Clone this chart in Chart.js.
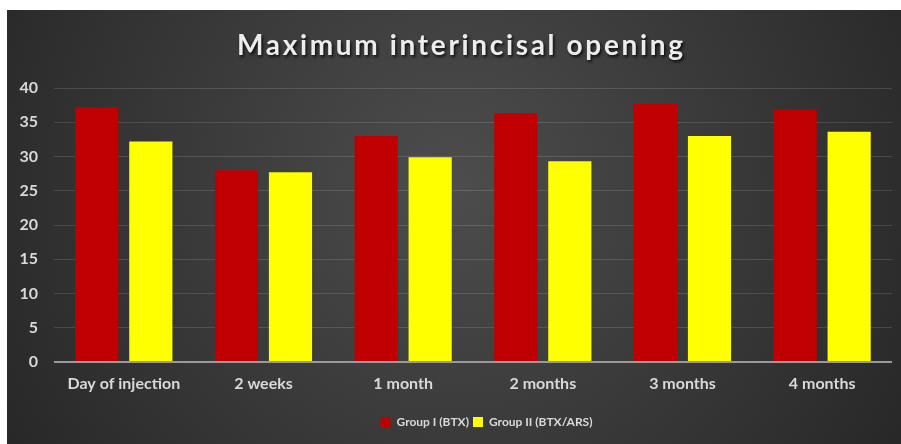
<!DOCTYPE html>
<html>
<head>
<meta charset="utf-8">
<script src="https://cdn.jsdelivr.net/npm/chart.js@4/dist/chart.umd.min.js"></script>
<style>
  html, body { margin: 0; padding: 0; background: #ffffff; }
  #wrap { position: absolute; left: 7px; top: 10px; width: 894px; height: 434px; }
</style>
</head>
<body>
<div id="wrap"><canvas id="c"></canvas></div>
<script>
const categories = ["Day of injection", "2 weeks", "1 month", "2 months", "3 months", "4 months"];
const group1 = [37.2, 28.0, 33.0, 36.3, 37.7, 36.9];
const group2 = [32.2, 27.7, 29.9, 29.3, 33.0, 33.6];
const seriesNames = ["Group I (BTX)", "Group II (BTX/ARS)"];
const titleText = "Maximum interincisal opening";
const yTicks = [0, 5, 10, 15, 20, 25, 30, 35, 40];

const FONT = "Lato, 'Open Sans', sans-serif";

const bgPlugin = {
  id: 'bg',
  beforeDraw(chart) {
    const ctx = chart.ctx, w = chart.width, h = chart.height;
    ctx.save();
    const g = ctx.createRadialGradient(w * 0.5, h * 0.4, 10, w * 0.5, h * 0.4, w * 0.62);
    g.addColorStop(0, '#4c4c4c');
    g.addColorStop(1, '#252525');
    ctx.fillStyle = g;
    ctx.fillRect(0, 0, w, h);
    ctx.restore();
  }
};

const legendShift = {
  id: 'legendShift',
  afterLayout(chart) {
    const l = chart.legend;
    if (l) { l.left += 37; l.right += 37; }
  }
};

const titlePlugin = {
  id: 'customTitle',
  afterDraw(chart) {
    const ctx = chart.ctx;
    ctx.save();
    ctx.font = "bold 28px " + FONT;
    const target = 446;
    ctx.letterSpacing = '0px';
    const w0 = ctx.measureText(titleText).width;
    const ls = Math.max(0, (target - w0) / (titleText.length - 1));
    ctx.letterSpacing = ls + 'px';
    ctx.textAlign = 'center';
    ctx.textBaseline = 'alphabetic';
    ctx.shadowColor = 'rgba(0,0,0,0.8)';
    ctx.shadowOffsetX = 1.5;
    ctx.shadowOffsetY = 2;
    ctx.shadowBlur = 3;
    ctx.fillStyle = '#ececec';
    ctx.fillText(titleText, 453 + ls / 2, 45);
    ctx.restore();
  }
};

new Chart(document.getElementById('c'), {
  type: 'bar',
  data: {
    labels: categories,
    datasets: [
      { label: seriesNames[0], data: group1, backgroundColor: '#c00000', borderWidth: 0 },
      { label: seriesNames[1], data: group2, backgroundColor: '#ffff00', borderWidth: 0 }
    ]
  },
  options: {
    responsive: true,
    maintainAspectRatio: false,
    animation: false,
    layout: { padding: { top: 78, right: 9, bottom: 6, left: 0 } },
    datasets: { bar: { categoryPercentage: 0.773, barPercentage: 0.8 } },
    plugins: {
      title: { display: false },
      tooltip: { enabled: false },
      legend: {
        display: true,
        position: 'bottom',
        labels: {
          boxWidth: 10, boxHeight: 10, padding: 4,
          color: '#d9d9d9',
          font: { family: FONT, size: 12, weight: 'bold' }
        }
      }
    },
    scales: {
      x: {
        grid: { display: false, drawTicks: false },
        border: { display: false },
        ticks: { color: '#d9d9d9', padding: 12, font: { family: FONT, size: 16, weight: 'bold' } },
        afterFit(scale) { scale.height = 50; }
      },
      y: {
        min: 0, max: 40,
        afterBuildTicks(scale) { scale.ticks = yTicks.map(v => ({ value: v })); },
        grid: {
          drawTicks: false,
          color: ctx => ctx.tick && ctx.tick.value === 0 ? '#9a9a9a' : 'rgba(255,255,255,0.13)',
          lineWidth: ctx => ctx.tick && ctx.tick.value === 0 ? 2 : 1
        },
        border: { display: false },
        ticks: { color: '#d9d9d9', padding: 16, font: { family: FONT, size: 16, weight: 'bold' } },
        afterFit(scale) { scale.width = 47; }
      }
    }
  },
  plugins: [bgPlugin, legendShift, titlePlugin]
});
</script>
</body>
</html>
